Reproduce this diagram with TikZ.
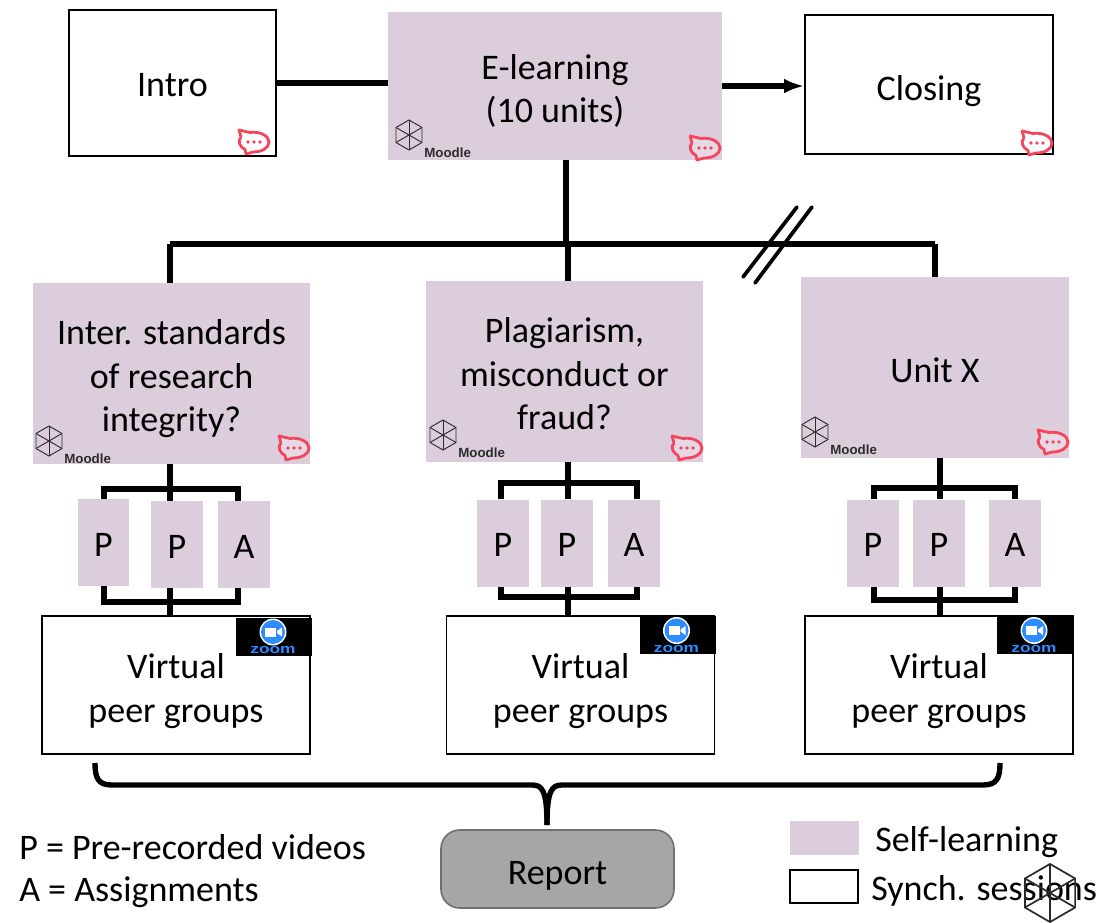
\documentclass[tikz,border=0pt]{standalone}
\usepackage{fontspec}
\setmainfont{Carlito}
\newfontfamily\iconfont{Liberation Sans}
\usetikzlibrary{arrows.meta}
\definecolor{selfcol}{HTML}{DBCDDC}
\definecolor{chatcol}{HTML}{F5455C}
\definecolor{zoomcol}{HTML}{2D8CFF}
\definecolor{reportcol}{HTML}{A6A6A6}
\definecolor{reportedge}{HTML}{707070}
\definecolor{moodlecol}{HTML}{2B2B2B}
% text in a box, lowered a little from the middle of the box
\newcommand{\boxlabel}[2]{\raisebox{-#1}[\height][\depth]{\begin{tabular}{@{}c@{}}#2\end{tabular}}}
\tikzset{
	boxtext/.style={font=\fontsize{27}{32.5}\selectfont, text=black, inner sep=0pt},
	selfbox/.style={boxtext, fill=selfcol},
	synchbox/.style={boxtext, draw=black, fill=white, line width=1.2pt},
	wire/.style={draw=black, line width=4pt},
	legendtext/.style={font=\fontsize{27}{32}\selectfont, anchor=west, inner sep=0pt},
	moodle/.pic={
		\draw[draw=moodlecol, line width=.7pt] (90:15)--(30:15)--(-30:15)--(-90:15)--(-150:15)--(150:15)--cycle;
		\draw[draw=moodlecol, line width=.7pt] (90:15)--(-90:15);
		\draw[draw=moodlecol, line width=.7pt] (30:15)--(-150:15);
		\draw[draw=moodlecol, line width=.7pt] (150:15)--(-30:15);
		\node[font=\iconfont\bfseries\fontsize{10}{10}\selectfont, text=moodlecol, anchor=west, inner sep=0pt] (-label) at (15,18) {Moodle};
	},
	chat/.pic={
		\draw[draw=chatcol, line width=2.1pt, fill=white, fill opacity=.25, line join=round]
			(-13,-5) -- (-15,-12) -- (-4,-9.5) .. controls (6,-11) and (15,-6) .. (15,0)
			.. controls (15,6) and (8,10) .. (-1,10) -- (-8,12) -- (-9,7.5) .. controls (-14,5) and (-17,-1) .. (-13,-5);
		\fill[chatcol] (-6,0) circle (1.8);
		\fill[chatcol] (0,0) circle (1.8);
		\fill[chatcol] (6,0) circle (1.8);
	},
	zoomlogo/.pic={
		\fill[black] (-38,-19) rectangle (38,19);
		\fill[white] (-1,-4.5) circle (13.5);
		\fill[zoomcol] (-1,-4.5) circle (12);
		\fill[white] (-9,-9) rectangle (2,0);
		\fill[white] (3,-5.5) -- (8,-9) -- (8,0) -- (3,-3.5) -- cycle;
		\node[font=\iconfont\bfseries\fontsize{10}{10}\selectfont, text=zoomcol, inner sep=0pt, transform shape, xscale=1.3] (-label) at (-1,13.5) {zoom};
	}
}
\begin{document}
\begin{tikzpicture}[x=.75pt, y=-.75pt]
	\useasboundingbox (0,0) rectangle (1117,923);

	% TOP ROW
	\node[synchbox, minimum width=155.25pt, minimum height=109.5pt] (intro) at (172.5,83) {\boxlabel{3.5pt}{Intro}};
	\node[selfbox, minimum width=250.5pt, minimum height=111pt] (elearn) at (555,86) {\boxlabel{5pt}{E-learning\\(10 units)}};
	\node[synchbox, minimum width=186pt, minimum height=104.25pt] (closing) at (929,84.5) {\boxlabel{5.25pt}{Closing}};

	% UNITS
	\node[selfbox, minimum width=207.75pt, minimum height=135.75pt] (unit1) at (171.5,373.5) {\boxlabel{4.5pt}{Inter. standards\\of research\\integrity?}};
	\node[selfbox, minimum width=207.75pt, minimum height=135.75pt] (unit2) at (564.5,371.5) {\boxlabel{4.5pt}{Plagiarism,\\misconduct or\\fraud?}};
	\node[selfbox, minimum width=201pt, minimum height=135.75pt] (unit3) at (935,367.5) {\boxlabel{4.5pt}{Unit X}};

	% VIDEOS AND ASSIGNMENTS
	\node[selfbox, minimum width=38.25pt, minimum height=65.25pt] (p11) at (103.5,542.5) {\boxlabel{3.75pt}{P}};
	\node[selfbox, minimum width=39pt, minimum height=65.25pt] (p12) at (177,544.5) {\boxlabel{3.75pt}{P}};
	\node[selfbox, minimum width=39pt, minimum height=65.25pt] (a1) at (244,544.5) {\boxlabel{3.75pt}{A}};
	\node[selfbox, minimum width=39pt, minimum height=65.25pt] (p21) at (503,543) {\boxlabel{3.75pt}{P}};
	\node[selfbox, minimum width=39pt, minimum height=65.25pt] (p22) at (567,543) {\boxlabel{3.75pt}{P}};
	\node[selfbox, minimum width=39pt, minimum height=65.25pt] (a2) at (634,543) {\boxlabel{3.75pt}{A}};
	\node[selfbox, minimum width=39pt, minimum height=65.25pt] (p31) at (873,543) {\boxlabel{3.75pt}{P}};
	\node[selfbox, minimum width=39pt, minimum height=65.25pt] (p32) at (939,543) {\boxlabel{3.75pt}{P}};
	\node[selfbox, minimum width=39pt, minimum height=65.25pt] (a3) at (1015,543) {\boxlabel{3.75pt}{A}};

	% PEER GROUPS
	\node[synchbox, minimum width=201pt, minimum height=103.5pt] (v1) at (176,685) {\boxlabel{5pt}{Virtual\\peer groups}};
	\node[synchbox, minimum width=201pt, minimum height=103.5pt] (v2) at (580.5,685) {\boxlabel{5pt}{Virtual\\peer groups}};
	\node[synchbox, minimum width=201pt, minimum height=103.5pt] (v3) at (939,685) {\boxlabel{5pt}{Virtual\\peer groups}};

	% REPORT AND LEGEND
	\node[boxtext, draw=reportedge, fill=reportcol, line width=1.2pt, rounded corners=14pt, minimum width=174.75pt, minimum height=58.5pt] (report) at (557.5,869) {\boxlabel{4.9pt}{Report}};
	\node[legendtext] (legp) at (19,847) {P = Pre-recorded videos};
	\node[legendtext] (lega) at (19,892) {A = Assignments};
	\node[selfbox, minimum width=51.75pt, minimum height=25.5pt] (legself) at (824.5,838) {};
	\node[synchbox, minimum width=51pt, minimum height=24.75pt] (legsynch) at (824,886.5) {};
	\node[legendtext] (legselft) at (875,842) {Self-learning};
	\node[legendtext] (legsyncht) at (871,891) {Synch. sessions};

	% JUNCTIONS
	\coordinate (h0) at (566,244);
	\coordinate (h1) at (170,244);
	\coordinate (h2) at (568,244);
	\coordinate (h3) at (935,244);
	\coordinate (t1l) at (104,489);
	\coordinate (t1c) at (170,489);
	\coordinate (t1r) at (238,489);
	\coordinate (b1l) at (104,602);
	\coordinate (b1c) at (170,602);
	\coordinate (b1r) at (238,602);
	\coordinate (t2l) at (501,483);
	\coordinate (t2c) at (568,483);
	\coordinate (t2r) at (637,483);
	\coordinate (b2l) at (501,597);
	\coordinate (b2c) at (568,597);
	\coordinate (b2r) at (637,597);
	\coordinate (t3l) at (874,488);
	\coordinate (t3c) at (940,488);
	\coordinate (t3r) at (1015,488);
	\coordinate (b3l) at (874,600);
	\coordinate (b3c) at (940,600);
	\coordinate (b3r) at (1015,600);
	\coordinate (s1a) at (743,277);
	\coordinate (s1b) at (797,207);
	\coordinate (s2a) at (755,283);
	\coordinate (s2b) at (812,207);
	\coordinate (bl) at (95,763);
	\coordinate (br) at (1000,763);
	\coordinate (bm) at (547,825);

	% DRAW CONNECTORS
	\path[wire] (intro.east) -- (elearn.west |- intro.east);
	\path[wire, -{Latex[length=15pt,width=11pt]}] (elearn.east) -- (closing.west |- elearn.east);
	\path[wire] (elearn.south -| h0) -- (h0);
	\path[wire] (h1) -- (h3);
	\path[wire] (h1) -- (unit1.north -| h1);
	\path[wire] (h2) -- (unit2.north -| h2);
	\path[wire] (h3) -- (unit3.north -| h3);
	\path[draw=black, line width=2.8pt, line cap=round] (s1a) -- (s1b);
	\path[draw=black, line width=2.8pt, line cap=round] (s2a) -- (s2b);

	\path[wire] (unit1.south -| t1c) -- (p12.north -| t1c);
	\path[wire] (p11.north -| t1l) -- (t1l) -- (t1r) -- (a1.north -| t1r);
	\path[wire] (p11.south -| b1l) -- (b1l) -- (b1r) -- (a1.south -| b1r);
	\path[wire] (p12.south -| b1c) -- (v1.north -| b1c);

	\path[wire] (unit2.south -| t2c) -- (p22.north -| t2c);
	\path[wire] (p21.north -| t2l) -- (t2l) -- (t2r) -- (a2.north -| t2r);
	\path[wire] (p21.south -| b2l) -- (b2l) -- (b2r) -- (a2.south -| b2r);
	\path[wire] (p22.south -| b2c) -- (v2.north -| b2c);

	\path[wire] (unit3.south -| t3c) -- (p32.north -| t3c);
	\path[wire] (p31.north -| t3l) -- (t3l) -- (t3r) -- (a3.north -| t3r);
	\path[wire] (p31.south -| b3l) -- (b3l) -- (b3r) -- (a3.south -| b3r);
	\path[wire] (p32.south -| b3c) -- (v3.north -| b3c);

	% DRAW BRACE
	\path[wire] (bl) .. controls (95,778) and (98,785) .. (112,785) -- (532,785)
		.. controls (542,785) and (547,790) .. (bm);
	\path[wire] (br) .. controls (1000,778) and (997,785) .. (983,785) -- (562,785)
		.. controls (552,785) and (547,790) .. (bm);

	% DRAW ICONS
	\pic (m0) at (409,135) {moodle};
	\pic (m1) at (49,441) {moodle};
	\pic (m2) at (443,435) {moodle};
	\pic (m3) at (815,432) {moodle};
	\pic (c0) at (254,142) {chat};
	\pic (c1) at (705,148) {chat};
	\pic (c2) at (1037,143) {chat};
	\pic (c3) at (294,448) {chat};
	\pic (c4) at (687,448) {chat};
	\pic (c5) at (1053,442) {chat};
	\pic (z1) at (274,636.5) {zoomlogo};
	\pic (z2) at (677.5,635) {zoomlogo};
	\pic (z3) at (1035,635) {zoomlogo};

	% STRAY HEXAGON
	\begin{scope}
		\clip (1000,850) rectangle (1117,923);
		\begin{scope}[shift={(1050,893)}]
			\draw[draw=moodlecol, line width=1.3pt] (90:29)--(30:29)--(-30:29)--(-90:29)--(-150:29)--(150:29)--cycle;
			\draw[draw=moodlecol, line width=1.3pt] (90:29)--(-90:29);
			\draw[draw=moodlecol, line width=1.3pt] (30:29)--(-150:29);
			\draw[draw=moodlecol, line width=1.3pt] (150:29)--(-30:29);
		\end{scope}
	\end{scope}
\end{tikzpicture}
\end{document}
